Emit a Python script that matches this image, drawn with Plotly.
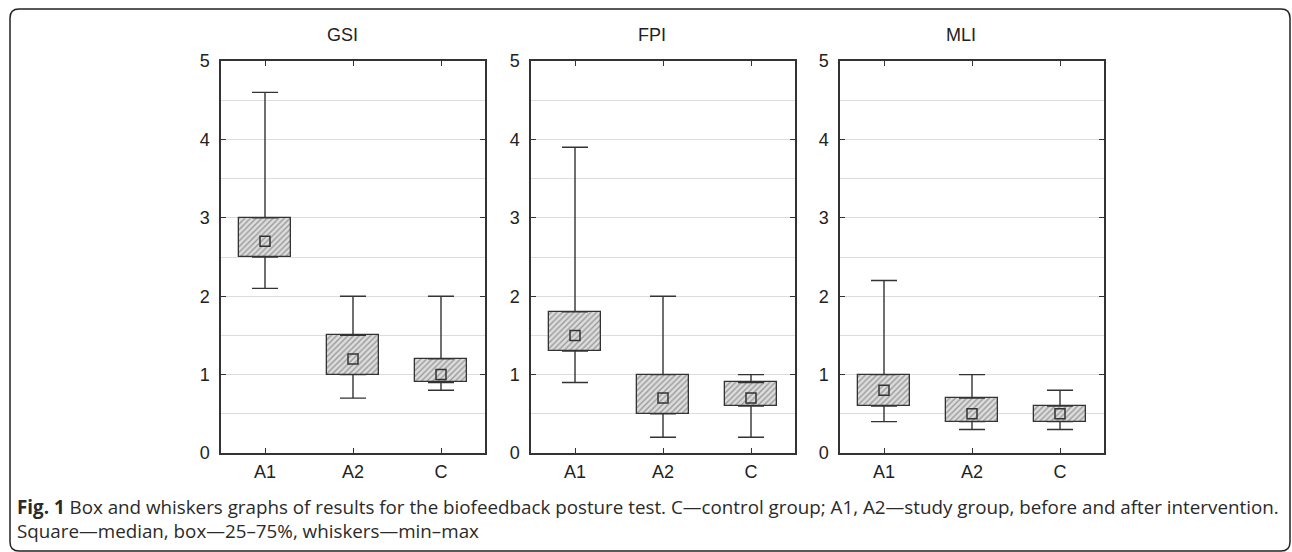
import plotly.graph_objects as go

categories = ["A1", "A2", "C"]
panels = ["GSI", "FPI", "MLI"]

gsi_min = [2.1, 0.7, 0.8]
gsi_q1 = [2.5, 1.0, 0.9]
gsi_med = [2.7, 1.2, 1.0]
gsi_q3 = [3.0, 1.5, 1.2]
gsi_max = [4.6, 2.0, 2.0]

fpi_min = [0.9, 0.2, 0.2]
fpi_q1 = [1.3, 0.5, 0.6]
fpi_med = [1.5, 0.7, 0.7]
fpi_q3 = [1.8, 1.0, 0.9]
fpi_max = [3.9, 2.0, 1.0]

mli_min = [0.4, 0.3, 0.3]
mli_q1 = [0.6, 0.4, 0.4]
mli_med = [0.8, 0.5, 0.5]
mli_q3 = [1.0, 0.7, 0.6]
mli_max = [2.2, 1.0, 0.8]

y_ticks = [0, 1, 2, 3, 4, 5]

caption_bold = "Fig. 1"
caption_text = (" Box and whiskers graphs of results for the biofeedback posture test. "
                "C\u2014control group; A1, A2\u2014study group, before and after intervention."
                "<br>Square\u2014median, box\u201425\u201375%, whiskers\u2014min\u2013max")

data = [
    (gsi_min, gsi_q1, gsi_med, gsi_q3, gsi_max),
    (fpi_min, fpi_q1, fpi_med, fpi_q3, fpi_max),
    (mli_min, mli_q1, mli_med, mli_q3, mli_max),
]

W, H = 1292, 552
MT, MB = 10, 10
PH = H - MT - MB
x_px = [(221, 485), (531, 795), (840, 1104)]
y_top, y_bot = 61, 453

def px(x):
    return x / W

def py(y):
    return 1 - (y - MT) / PH

dark = "#333333"
fig = go.Figure()

for i, (mn, q1, md, q3, mx) in enumerate(data):
    xa = "x" if i == 0 else f"x{i+1}"
    ya = "y" if i == 0 else f"y{i+1}"
    # boxes
    fig.add_trace(go.Bar(
        x=categories, y=[b - a for a, b in zip(q1, q3)], base=q1,
        width=0.59, xaxis=xa, yaxis=ya, showlegend=False,
        marker=dict(color="#dcdcdc", line=dict(color=dark, width=1.3),
                    pattern=dict(shape="/", fgcolor="#555555", bgcolor="#dddddd",
                                 size=4, solidity=0.35)),
        hoverinfo="skip",
    ))
    # upper whiskers
    fig.add_trace(go.Scatter(
        x=categories, y=q3, mode="markers", marker=dict(size=1, opacity=0),
        xaxis=xa, yaxis=ya, showlegend=False, hoverinfo="skip",
        error_y=dict(type="data", symmetric=False,
                     array=[b - a for a, b in zip(q3, mx)],
                     arrayminus=[0, 0, 0], width=13, thickness=1.4, color=dark),
    ))
    # lower whiskers
    fig.add_trace(go.Scatter(
        x=categories, y=q1, mode="markers", marker=dict(size=1, opacity=0),
        xaxis=xa, yaxis=ya, showlegend=False, hoverinfo="skip",
        error_y=dict(type="data", symmetric=False,
                     array=[0, 0, 0],
                     arrayminus=[a - b for a, b in zip(q1, mn)], width=13, thickness=1.4, color=dark),
    ))
    # medians
    fig.add_trace(go.Scatter(
        x=categories, y=md, mode="markers",
        marker=dict(symbol="square-open", size=10, color=dark, line=dict(width=1.5, color=dark)),
        xaxis=xa, yaxis=ya, showlegend=False,
    ))

    x0, x1 = x_px[i]
    xkey = "xaxis" if i == 0 else f"xaxis{i+1}"
    ykey = "yaxis" if i == 0 else f"yaxis{i+1}"
    fig.layout[xkey] = dict(
        domain=[x0 / W, x1 / W], anchor=ya, type="category",
        categoryorder="array", categoryarray=categories, range=[-0.5, 2.5],
        showline=True, linecolor=dark, linewidth=1.5, mirror="ticks",
        ticks="inside", ticklen=5, tickcolor=dark, tickwidth=1.2,
        showgrid=False, zeroline=False, ticklabelstandoff=2,
        tickfont=dict(family="Liberation Sans, Arial", size=18, color="#222222"),
    )
    fig.layout[ykey] = dict(
        domain=[py(y_bot), py(y_top)], anchor=xa, range=[0, 5],
        tickvals=y_ticks, ticktext=[str(v) for v in y_ticks],
        showline=True, linecolor=dark, linewidth=1.5, mirror="ticks",
        ticks="inside", ticklen=5, tickcolor=dark, tickwidth=1.2,
        showgrid=True, gridcolor="#dddddd", gridwidth=1.2,
        minor=dict(dtick=0.5, showgrid=True, gridcolor="#dddddd", gridwidth=1.2,
                   ticks="", tick0=0),
        zeroline=False, ticklabelstandoff=6,
        tickfont=dict(family="Liberation Sans, Arial", size=18, color="#222222"),
    )
    fig.add_annotation(
        text=panels[i], x=((x0 + x1) / 2 - 11) / W, y=py(35),
        xref="paper", yref="paper", showarrow=False, xanchor="center", yanchor="middle",
        font=dict(family="Liberation Sans, Arial", size=18, color="#222222"),
    )

# caption
fig.add_annotation(
    text=f"<b>{caption_bold}</b>{caption_text}",
    x=15 / W, y=py(492), xref="paper", yref="paper", showarrow=False,
    xanchor="left", yanchor="top", align="left",
    font=dict(family="Open Sans", size=18.8, color="#2a2a2a"),
)

# rounded frame
r = 9
L, T, R, B = 10, 9, 1290, 551
path = (f"M {px(L)},{py(B - r)} L {px(L)},{py(T + r)} Q {px(L)},{py(T)} {px(L + r)},{py(T)} "
        f"L {px(R - r)},{py(T)} Q {px(R)},{py(T)} {px(R)},{py(T + r)} "
        f"L {px(R)},{py(B - r)} Q {px(R)},{py(B)} {px(R - r)},{py(B)} "
        f"L {px(L + r)},{py(B)} Q {px(L)},{py(B)} {px(L)},{py(B - r)} Z")
fig.add_shape(type="path", path=path, xref="paper", yref="paper",
              line=dict(color="#222222", width=1.5), layer="below")

fig.update_layout(
    width=W, height=H, margin=dict(l=0, r=0, t=MT, b=MB),
    paper_bgcolor="white", plot_bgcolor="white", bargap=0,
)

fig.write_html(
    "out.html",
    config={"displayModeBar": False},
    post_script="document.body.style.margin='0';document.body.style.overflow='hidden';",
)
